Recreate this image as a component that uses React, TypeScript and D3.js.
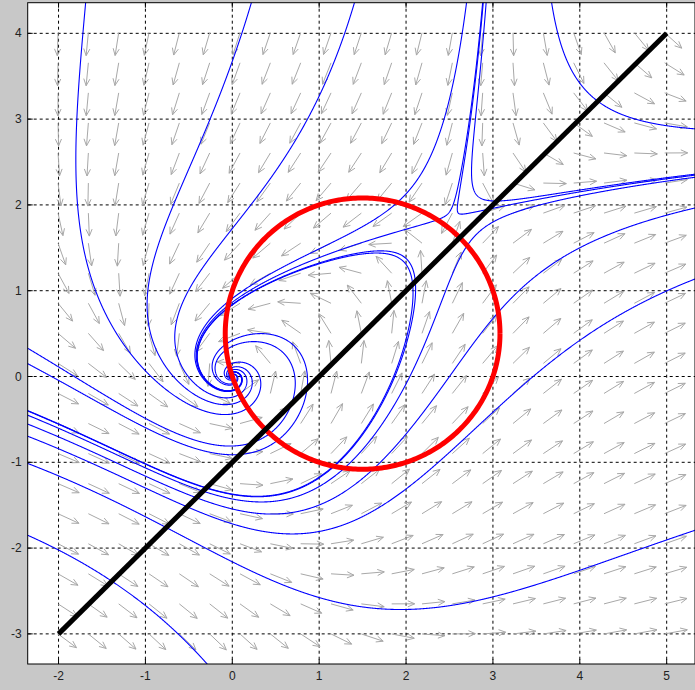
import React, { useMemo } from "react";
import * as d3 from "d3";

// Window of the phase plane
const X_MIN = -2.355;
const X_MAX = 5.326;
const Y_MIN = -3.351;
const Y_MAX = 4.357;

const X_TICKS = [-2, -1, 0, 1, 2, 3, 4, 5];
const Y_TICKS = [-3, -2, -1, 0, 1, 2, 3, 4];

// Direction field: 22 x 22 cells, an arrow at every interior grid node
const FIELD_CELLS = 22;

// Starting points of the plotted solution curves (each is integrated forward and backward)
const SEEDS_TOP: [number, number][] = [
  [-1.79, 2.99],
  [-0.26, 2.99],
  [1.01, 3.29],
  [2.01, 2.14],
  [2.08, 1.74],
  [2.72, 2.84],
  [2.82, 3.22],
  [4.03, 3.38],
];
const SEEDS_RIGHT: [number, number][] = [
  [3.51, 0.04],
  [3.31, 1.01],
  [3.4, 1.96],
];
const SEEDS_BOTTOM: [number, number][] = [
  [2.57, -2.66],
  [-1.6, -0.27],
  [-1.41, -2.37],
];
const SEEDS_INNER: [number, number][] = [
  [2.08, 1.01],
  [2.11, 1.01],
  [0.72, -0.16],
];

// Annotation curves
const CIRCLE = { cx: 1.5, cy: 0.5, r: Math.sqrt(2.5) };
const LINE_PTS: [number, number][] = [
  [-2, -3],
  [5, 4],
];

// Vector field of the system
function field(x: number, y: number): [number, number] {
  const c = 1 + 0.15 * Math.tanh(y);
  return [
    x * x - x - 2.5 * y + 0.2 * y * Math.abs(y),
    2 * x + 0.1 * x * x - 0.02 * x * x * x - 0.8 * y - c * y * y,
  ];
}

function unitField(x: number, y: number, dir: number): [number, number] {
  const [u, v] = field(x, y);
  const n = Math.hypot(u, v) || 1e-12;
  return [(dir * u) / n, (dir * v) / n];
}

function trace(x0: number, y0: number, dir: number): [number, number][] {
  const pts: [number, number][] = [];
  let x = x0;
  let y = y0;
  const ds = 0.005;
  for (let i = 0; i < 6000; i++) {
    const k1 = unitField(x, y, dir);
    const k2 = unitField(x + (ds / 2) * k1[0], y + (ds / 2) * k1[1], dir);
    const k3 = unitField(x + (ds / 2) * k2[0], y + (ds / 2) * k2[1], dir);
    const k4 = unitField(x + ds * k3[0], y + ds * k3[1], dir);
    x += (ds / 6) * (k1[0] + 2 * k2[0] + 2 * k3[0] + k4[0]);
    y += (ds / 6) * (k1[1] + 2 * k2[1] + 2 * k3[1] + k4[1]);
    pts.push([x, y]);
    if (x < X_MIN - 0.2 || x > X_MAX + 0.2 || y < Y_MIN - 0.2 || y > Y_MAX + 0.2) break;
    if (Math.hypot(x, y) < 0.004) break;
  }
  return pts;
}

function solution(seed: [number, number]): [number, number][] {
  const back = trace(seed[0], seed[1], -1).reverse();
  const fwd = trace(seed[0], seed[1], 1);
  return [...back, seed, ...fwd];
}

export default function App() {
  const W = 695;
  const H = 690;
  const left = 27.7;
  const right = 695;
  const top = 2.7;
  const bottom = 664;

  const x = d3.scaleLinear().domain([X_MIN, X_MAX]).range([left, right]);
  const y = d3.scaleLinear().domain([Y_MIN, Y_MAX]).range([bottom, top]);

  const curves = useMemo(
    () => [...SEEDS_TOP, ...SEEDS_RIGHT, ...SEEDS_BOTTOM, ...SEEDS_INNER].map(solution),
    []
  );

  const line = d3
    .line<[number, number]>()
    .x((d) => x(d[0]))
    .y((d) => y(d[1]));

  // Direction field arrows, tail at each grid node
  const arrows = useMemo(() => {
    const out: { x1: number; y1: number; x2: number; y2: number; h: string }[] = [];
    const gxs = d3.range(1, FIELD_CELLS).map((k) => X_MIN + ((X_MAX - X_MIN) * k) / FIELD_CELLS);
    const gys = d3.range(1, FIELD_CELLS).map((k) => Y_MIN + ((Y_MAX - Y_MIN) * k) / FIELD_CELLS);
    const L = 23;
    for (const gx of gxs) {
      for (const gy of gys) {
        const [u, v] = field(gx, gy);
        const n = Math.hypot(u, v) || 1;
        const dx = u / n;
        const dy = -v / n;
        const x1 = x(gx);
        const y1 = y(gy);
        const x2 = x1 + dx * L;
        const y2 = y1 + dy * L;
        const a = Math.atan2(dy, dx);
        const hl = 7.5;
        const ha = 0.42;
        const h = `M${x2 - hl * Math.cos(a - ha)},${y2 - hl * Math.sin(a - ha)}L${x2},${y2}L${
          x2 - hl * Math.cos(a + ha)
        },${y2 - hl * Math.sin(a + ha)}`;
        out.push({ x1, y1, x2, y2, h });
      }
    }
    return out;
  }, []);

  const circlePts = d3.range(0, 361).map(
    (t) =>
      [
        CIRCLE.cx + CIRCLE.r * Math.cos((t * Math.PI) / 180),
        CIRCLE.cy + CIRCLE.r * Math.sin((t * Math.PI) / 180),
      ] as [number, number]
  );

  return (
    <svg
      width={W}
      height={H}
      style={{ position: "absolute", left: 0, top: 0, background: "#c8c8c8" }}
      fontFamily="'Liberation Sans', Arial, sans-serif"
    >
      <defs>
        <clipPath id="plotClip">
          <rect x={left} y={top} width={right - left} height={bottom - top} />
        </clipPath>
      </defs>
      <rect x={left} y={top} width={right - left} height={bottom - top} fill="#ffffff" />
      <g clipPath="url(#plotClip)">
        {X_TICKS.map((t) => (
          <line
            key={"gx" + t}
            x1={x(t)}
            x2={x(t)}
            y1={top}
            y2={bottom}
            stroke="#000"
            strokeWidth={1}
            strokeDasharray="3,3"
          />
        ))}
        {Y_TICKS.map((t) => (
          <line
            key={"gy" + t}
            x1={left}
            x2={right}
            y1={y(t)}
            y2={y(t)}
            stroke="#000"
            strokeWidth={1}
            strokeDasharray="3,3"
          />
        ))}
        {arrows.map((a, i) => (
          <g key={"a" + i} stroke="#a8a8a8" strokeWidth={1} fill="none">
            <line x1={a.x1} y1={a.y1} x2={a.x2} y2={a.y2} />
            <path d={a.h} />
          </g>
        ))}
        {curves.map((c, i) => (
          <path key={"c" + i} d={line(c) || ""} fill="none" stroke="#0000ff" strokeWidth={1.1} />
        ))}
        <path d={line(circlePts) || ""} fill="none" stroke="#ff0000" strokeWidth={5} />
        <path d={line(LINE_PTS) || ""} fill="none" stroke="#000000" strokeWidth={5} />
      </g>
      <rect x={left} y={top} width={right - left} height={bottom - top} fill="none" stroke="#000" strokeWidth={1} />
      {X_TICKS.map((t) => (
        <g key={"tx" + t}>
          <line x1={x(t)} x2={x(t)} y1={bottom} y2={bottom - 5} stroke="#000" />
          <line x1={x(t)} x2={x(t)} y1={top} y2={top + 5} stroke="#000" />
          <text x={x(t)} y={bottom + 16} fontSize={12} textAnchor="middle" fill="#222">
            {t}
          </text>
        </g>
      ))}
      {Y_TICKS.map((t) => (
        <g key={"ty" + t}>
          <line x1={left} x2={left + 5} y1={y(t)} y2={y(t)} stroke="#000" />
          <text x={left - 6} y={y(t) + 4} fontSize={12} textAnchor="end" fill="#222">
            {t}
          </text>
        </g>
      ))}
    </svg>
  );
}
